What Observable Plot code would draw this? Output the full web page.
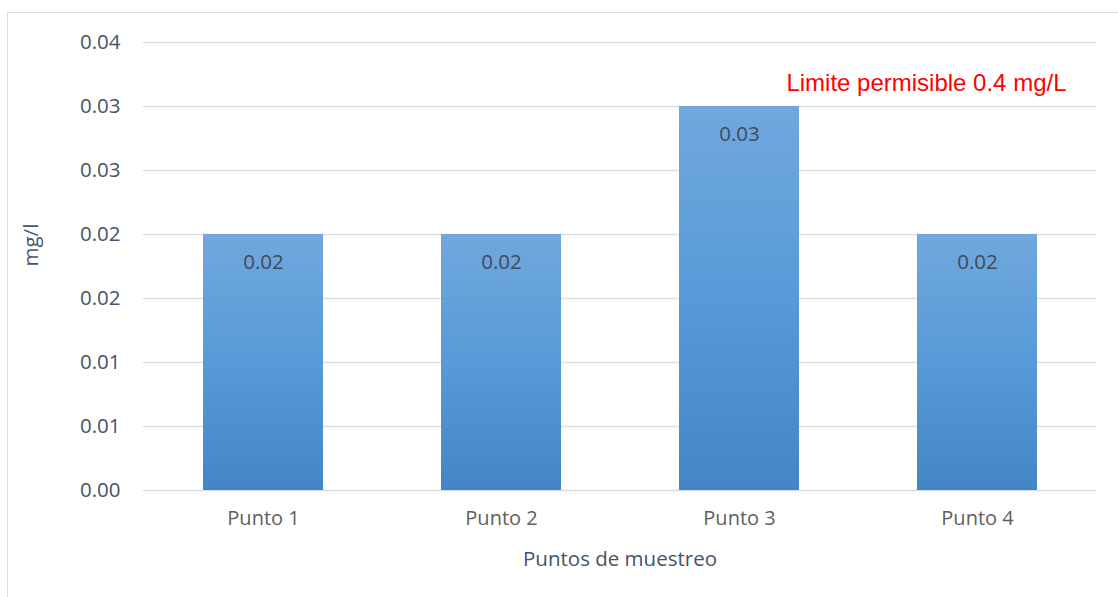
<!DOCTYPE html>
<html>
<head>
<meta charset="utf-8">
<script src="https://cdn.jsdelivr.net/npm/d3@7"></script>
<script src="https://cdn.jsdelivr.net/npm/@observablehq/plot@0.6"></script>
<style>
  html, body { margin: 0; padding: 0; background: #fff; }
  #wrap { position: relative; width: 1118px; height: 597px; overflow: hidden; }
  #frame { position: absolute; left: 7px; top: 12px; width: 1200px; height: 700px;
           border-left: 1.5px solid #dadde3; border-top: 1.5px solid #dadde3; }
  #chart { position: absolute; left: 0; top: 0; }
</style>
</head>
<body>
<div id="wrap"><div id="frame"></div><div id="chart"></div></div>
<script>
// Sampling points and measured concentration (mg/l)
const puntos = ["Punto 1", "Punto 2", "Punto 3", "Punto 4"];
const valores = [0.02, 0.02, 0.03, 0.02];

// Y axis ticks every 0.005, labelled with two decimals as in the workbook
const yTicks = [0, 0.005, 0.01, 0.015, 0.02, 0.025, 0.03, 0.035];
const yTickLabels = ["0.00", "0.01", "0.01", "0.02", "0.02", "0.03", "0.03", "0.04"];

const xTitle = "Puntos de muestreo";
const yTitle = "mg/l";
const limiteNota = "Limite permisible 0.4 mg/L";

const data = puntos.map((p, i) => ({punto: p, valor: valores[i]}));

const slate = "#44546a";
const sans = "'Open Sans', 'Noto Sans', sans-serif";

const svg = Plot.plot({
  width: 1118,
  height: 597,
  marginLeft: 143,
  marginRight: 22,
  marginTop: 42,
  marginBottom: 107,
  style: {background: "transparent", overflow: "visible"},
  x: {domain: puntos, paddingInner: 0.496, paddingOuter: 0.248},
  y: {domain: [0, 0.035]},
  marks: [
    Plot.gridY(yTicks, {stroke: "#d9dde4", strokeOpacity: 1, strokeWidth: 1.5}),
    Plot.barY(data, {x: "punto", y: "valor", fill: "url(#barGrad)"}),
    Plot.text(data, {
      x: "punto", y: "valor", text: d => d.valor.toFixed(2),
      dy: 28, fill: "#404b5a", fontSize: 20.5, fontFamily: sans
    }),
    Plot.axisY({
      ticks: yTicks, tickFormat: (d, i) => yTickLabels[i],
      tickSize: 0, tickPadding: 23, label: null,
      fill: slate, fontSize: 20.5, fontFamily: sans
    }),
    Plot.axisX({
      tickSize: 0, tickPadding: 20, label: null,
      fill: "#606060", fontSize: 20, fontFamily: sans
    }),
    Plot.text([xTitle], {
      frameAnchor: "bottom", dy: 69, lineAnchor: "middle",
      fill: slate, fontSize: 20.5, fontFamily: sans
    }),
    Plot.text([yTitle], {
      frameAnchor: "left", dx: -112, rotate: -90, lineAnchor: "middle",
      fill: slate, fontSize: 20.5, fontFamily: sans
    }),
    Plot.text([limiteNota], {
      frameAnchor: "top-right", dx: -30, dy: 41, lineAnchor: "middle", textAnchor: "end",
      fill: "#ff0000", fontSize: 24, fontFamily: "'Liberation Sans', Arial, sans-serif"
    })
  ]
});

// Vertical gradient fill for the bars: lighter at the top, deeper at the base
const defs = d3.select(svg).insert("defs", ":first-child");
const grad = defs.append("linearGradient")
  .attr("id", "barGrad").attr("x1", 0).attr("y1", 0).attr("x2", 0).attr("y2", 1);
grad.append("stop").attr("offset", "0%").attr("stop-color", "#71a8dd");
grad.append("stop").attr("offset", "50%").attr("stop-color", "#579ad8");
grad.append("stop").attr("offset", "100%").attr("stop-color", "#4386c6");

document.getElementById("chart").appendChild(svg);
</script>
</body>
</html>
